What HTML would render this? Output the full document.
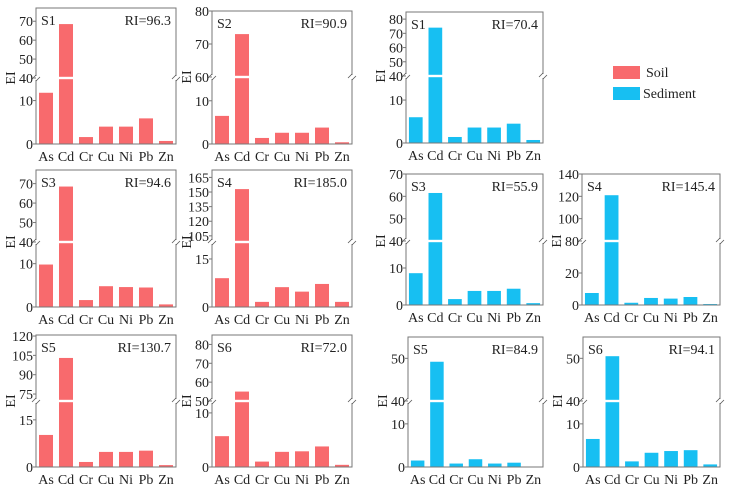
<!DOCTYPE html>
<html><head><meta charset="utf-8"><style>
body{margin:0;background:#fff;}
svg text{font-family:"Liberation Serif","DejaVu Serif",serif !important;fill:#222;}
</style></head><body>
<svg id="c" width="742" height="495" viewBox="0 0 742 495" xmlns="http://www.w3.org/2000/svg" font-family="Liberation Serif, serif">
  <g>
    <rect x="613" y="66" width="27" height="13" fill="#f86a6d"/>
    <text x="646" y="77" font-size="14" font-family="Liberation Serif, serif">Soil</text>
    <rect x="613" y="87" width="27" height="13" fill="#17bff2"/>
    <text x="643" y="98" font-size="14" font-family="Liberation Serif, serif">Sediment</text>
  </g>
</svg>
<script>
const categories=["As","Cd","Cr","Cu","Ni","Pb","Zn"];
const soilS1=[11.8,68.5,1.6,4.0,4.0,5.9,0.7];
const soilS2=[6.5,73,1.4,2.6,2.6,3.8,0.4];
const soilS3=[9.8,68.5,1.6,4.8,4.6,4.5,0.6];
const soilS4=[9.0,153,1.6,6.2,4.8,7.2,1.6];
const soilS5=[10.2,103,1.6,4.8,4.8,5.2,0.6];
const soilS6=[5.7,55,1.0,2.8,2.9,3.8,0.4];
const sedS1=[6.0,74,1.4,3.6,3.6,4.5,0.7];
const sedS3=[8.6,61.5,1.6,3.8,3.8,4.4,0.5];
const sedS4=[7.5,121,1.4,4.4,4.0,5.0,0.6];
const sedS5=[1.5,49.2,0.8,1.8,0.8,1.0,0.1];
const sedS6=[6.5,50.5,1.3,3.3,3.7,3.9,0.6];
const riLabels=["RI=96.3","RI=90.9","RI=70.4","RI=94.6","RI=185.0","RI=55.9","RI=145.4","RI=130.7","RI=72.0","RI=84.9","RI=94.1"];
const siteLabels=["S1","S2","S1","S3","S4","S3","S4","S5","S6","S5","S6"];
const lowTicks=[[0,10],[0,10],[0,10],[0,10],[0,15],[0,10],[0,20],[0,15],[0,10],[0,10],[0,10]];
const upTicks=[[40,50,60,70],[60,70,80],[40,50,60,70,80],[40,50,60,70],[105,120,135,150,165],[40,50,60,70],[80,100,120,140],[75,90,105,120],[50,60,70,80],[40,50],[40,50]];
const seriesList=[soilS1,soilS2,sedS1,soilS3,soilS4,sedS3,sedS4,soilS5,soilS6,sedS5,sedS6];
// layout / scale configuration
const layout=[
 {l:36,r:176,t:8,b:144,brk:78,lowMax:15.2,upMin:40,upMax:77,c:"#f86a6d"},
 {l:212,r:352,t:11,b:144,brk:77,lowMax:15.5,upMin:60,upMax:80,c:"#f86a6d"},
 {l:406,r:543,t:12,b:143,brk:76,lowMax:15.6,upMin:40,upMax:85,c:"#17bff2"},
 {l:36,r:176,t:170,b:307,brk:242,lowMax:15,upMin:40,upMax:77,c:"#f86a6d"},
 {l:212,r:352,t:170,b:307,brk:242,lowMax:20.3,upMin:98.7,upMax:172.6,c:"#f86a6d"},
 {l:406,r:543,t:174,b:305,brk:241,lowMax:17.3,upMin:40,upMax:70,c:"#17bff2"},
 {l:582,r:720,t:174,b:305,brk:241,lowMax:40,upMin:80,upMax:140,c:"#17bff2"},
 {l:36,r:176,t:335,b:467,brk:401,lowMax:21,upMin:69.6,upMax:120.8,c:"#f86a6d"},
 {l:212,r:352,t:335,b:467,brk:401,lowMax:12.2,upMin:50,upMax:85,c:"#f86a6d"},
 {l:408,r:543,t:337,b:467,brk:401,lowMax:15.3,upMin:40,upMax:55,c:"#17bff2"},
 {l:583,r:720,t:337,b:467,brk:401,lowMax:15.3,upMin:40,upMax:55,c:"#17bff2"}
];
const NS="http://www.w3.org/2000/svg";
const svg=document.getElementById("c");
const FF="Liberation Serif, serif";
function mk(tag,attrs,parent){const e=document.createElementNS(NS,tag);for(const k in attrs)e.setAttribute(k,attrs[k]);if(tag==="text")e.setAttribute("font-family",FF);parent.appendChild(e);return e;}
layout.forEach((p,i)=>{
  const vals=seriesList[i];
  const g=mk("g",{},svg);
  
  
  const y=v=>v<=p.lowMax? p.b-(v/p.lowMax)*(p.b-p.brk) : p.brk-((v-p.upMin)/(p.upMax-p.upMin))*(p.brk-p.t);
  const cw=(p.r-p.l)/categories.length;
  vals.forEach((v,j)=>{
    const x=p.l+cw*j+cw*0.15, top=y(v);
    const rc=mk("rect",{x:x,y:top,width:cw*0.7,height:p.b-top,fill:p.c},g);
    
    
    if(v>p.lowMax){mk("rect",{x:x-1,y:p.brk-1.2,width:cw*0.7+2,height:2.4,fill:"#fff"},g);}
    const tx=mk("text",{x:p.l+cw*(j+0.5),y:p.b+17,"font-size":14,"text-anchor":"middle"},g);
    tx.textContent=categories[j];
    
    
  });
  const fr=mk("rect",{x:p.l,y:p.t,width:p.r-p.l,height:p.b-p.t,fill:"none",stroke:"#777","stroke-width":1},g);
  
  
  [p.l,p.r].forEach(bx=>{
    mk("rect",{x:bx-4,y:p.brk-2,width:8,height:4,fill:"#fff"},g);
    mk("path",{d:`M${bx-4},${p.brk+1}L${bx},${p.brk-3}M${bx},${p.brk+3}L${bx+4},${p.brk-1}`,stroke:"#555","stroke-width":0.8,fill:"none"},g);
  });
  lowTicks[i].concat(upTicks[i]).forEach(v=>{
    const ty=y(v);
    mk("line",{x1:p.l-3,x2:p.l,y1:ty,y2:ty,stroke:"#777"},g);
    const t=mk("text",{x:p.l-3,y:ty+5,"font-size":14,"text-anchor":"end"},g);
    t.textContent=v;
    
    
  });
  const yl=mk("text",{x:0,y:0,"font-size":14,"text-anchor":"middle",transform:`translate(${p.l-21},${p.brk}) rotate(-90)`},g);
  yl.textContent="EI";
  
  
  const st=mk("text",{x:p.l+5,y:p.t+17,"font-size":14},g);
  st.textContent=siteLabels[i];
  
  
  const ri=mk("text",{x:p.r-5,y:p.t+17,"font-size":14,"text-anchor":"end"},g);
  ri.textContent=riLabels[i];
  
  
});
</script>
</body></html>
